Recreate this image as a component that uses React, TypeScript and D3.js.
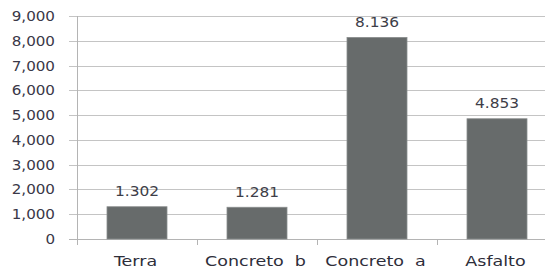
import React, { useRef, useEffect } from 'react';
import * as d3 from 'd3';

const categories = ['Terra', 'Concreto  b', 'Concreto  a', 'Asfalto'];
const values = [1302, 1281, 8136, 4853];
const valueLabels = ['1.302', '1.281', '8.136', '4.853'];
const yTicks = [0, 1000, 2000, 3000, 4000, 5000, 6000, 7000, 8000, 9000];

const App = () => {
  const ref = useRef<SVGSVGElement>(null);

  useEffect(() => {
    const width = 545;
    const left = 77;
    const top = 16;
    const bottom = 239;

    const svg = d3.select(ref.current);
    svg.selectAll('*').remove();

    const x = d3.scaleBand<string>()
      .domain(categories)
      .range([left, left + 480])
      .paddingInner(0.5)
      .paddingOuter(0.25);

    const y = d3.scaleLinear().domain([0, 9000]).range([bottom, top]);

    const font = 'DejaVu Sans, Verdana, sans-serif';

    // gridlines + y ticks
    svg.append('g')
      .selectAll('line')
      .data(yTicks)
      .enter().append('line')
      .attr('x1', left - 8)
      .attr('x2', width)
      .attr('y1', d => Math.round(y(d)) + 0.5)
      .attr('y2', d => Math.round(y(d)) + 0.5)
      .attr('stroke', d => (d === 0 ? '#b4b4b4' : '#c4c4c4'))
      .attr('stroke-width', 1);

    // y axis line
    svg.append('line')
      .attr('x1', left + 0.5).attr('x2', left + 0.5)
      .attr('y1', top).attr('y2', bottom + 6)
      .attr('stroke', '#b4b4b4');

    // x ticks at band boundaries
    const boundaries = categories.map(c => (x(c) as number) - x.step() * 0.25).slice(1);
    svg.append('g')
      .selectAll('line')
      .data(boundaries)
      .enter().append('line')
      .attr('x1', d => Math.round(d) + 0.5)
      .attr('x2', d => Math.round(d) + 0.5)
      .attr('y1', bottom)
      .attr('y2', bottom + 6)
      .attr('stroke', '#b4b4b4');

    // y tick labels
    svg.append('g')
      .selectAll('text')
      .data(yTicks)
      .enter().append('text')
      .attr('transform', d => `translate(55,${y(d) + 5}) scale(1.08,1)`)
      .attr('text-anchor', 'end')
      .attr('font-family', font)
      .attr('font-size', 14)
      .attr('fill', '#3a3848')
      .text(d => d3.format(',')(d));

    // bars
    svg.append('g')
      .selectAll('rect')
      .data(values)
      .enter().append('rect')
      .attr('x', (d, i) => x(categories[i]) as number)
      .attr('y', d => y(d))
      .attr('width', x.bandwidth())
      .attr('height', d => bottom - y(d))
      .attr('fill', '#676b6b')
      .attr('stroke', '#8a8e8e')
      .attr('stroke-width', 0.8);

    // value labels
    svg.append('g')
      .selectAll('text')
      .data(values)
      .enter().append('text')
      .attr('transform', (d, i) =>
        `translate(${(x(categories[i]) as number) + x.bandwidth() / 2},${y(d) - 10.5}) scale(1.1,1)`)
      .attr('text-anchor', 'middle')
      .attr('font-family', font)
      .attr('font-size', 14)
      .attr('fill', '#3e3e48')
      .text((d, i) => valueLabels[i]);

    // category labels
    svg.append('g')
      .selectAll('text')
      .data(categories)
      .enter().append('text')
      .attr('transform', d =>
        `translate(${(x(d) as number) + x.bandwidth() / 2 - 1.5},266) scale(1.25,1)`)
      .attr('text-anchor', 'middle')
      .attr('font-family', font)
      .attr('font-size', 14)
      .attr('fill', '#2e2e3a')
      .attr('xml:space', 'preserve')
      .style('white-space', 'pre')
      .text(d => d);
  }, []);

  return (
    <svg
      ref={ref}
      width={545}
      height={272}
      style={{ position: 'absolute', left: 0, top: 0, background: '#fff' }}
    />
  );
};

export default App;
